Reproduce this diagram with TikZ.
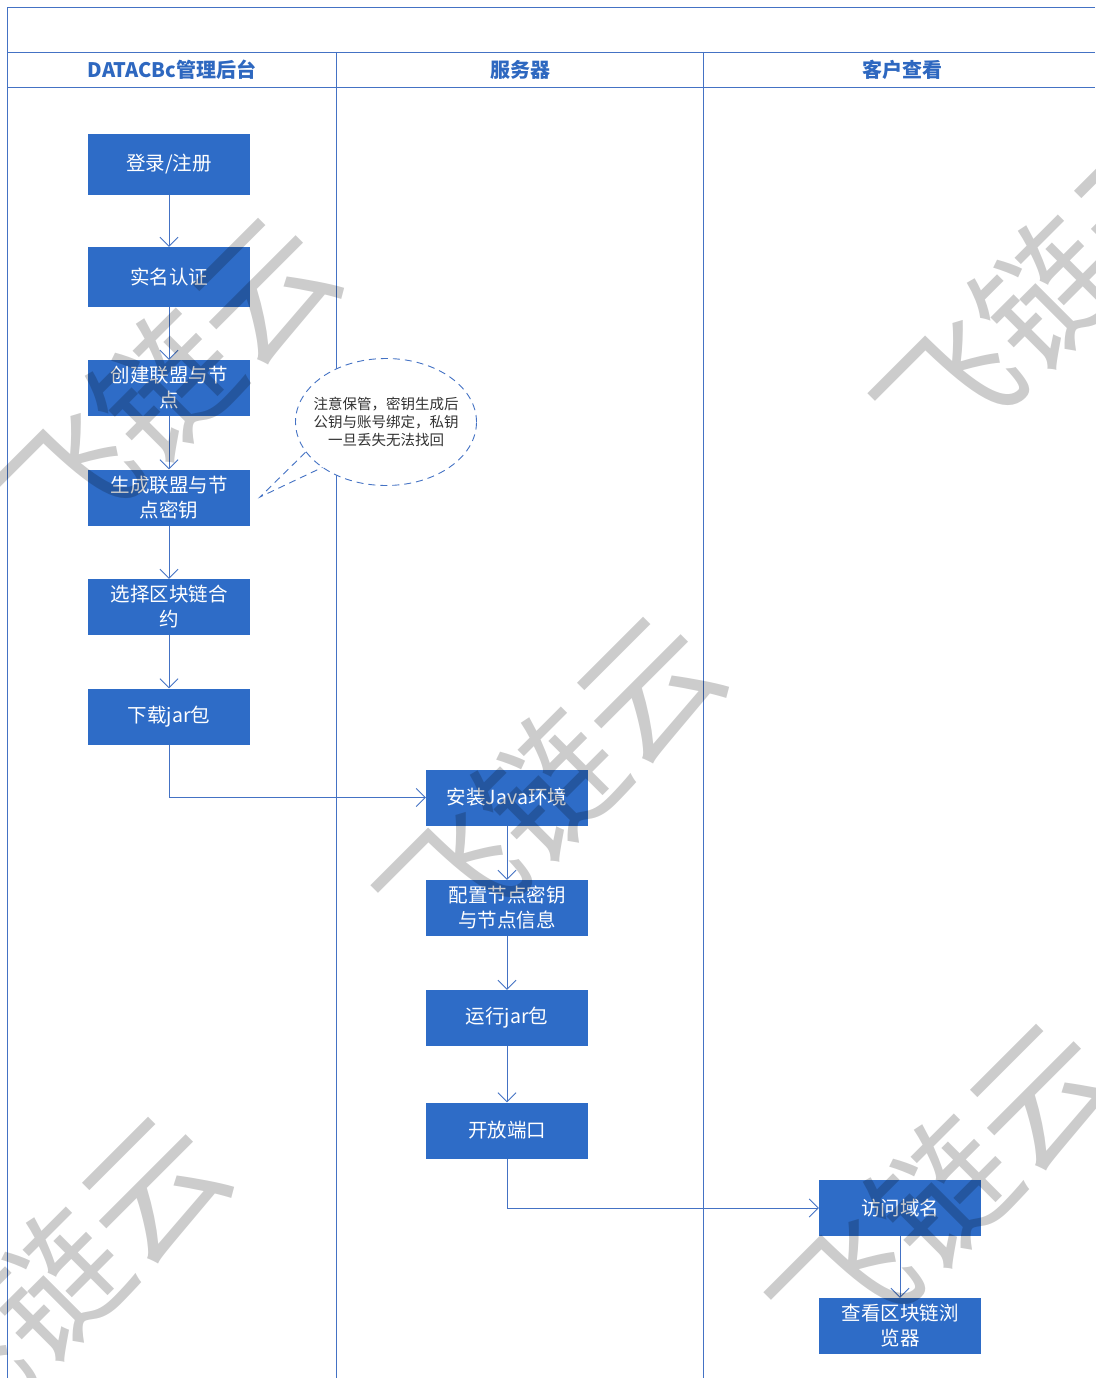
\documentclass[tikz,border=0pt]{standalone}
\usepackage{fontspec}
\setmainfont{Noto Sans CJK SC}
\usetikzlibrary{arrows.meta,shapes.geometric,calc}
\definecolor{boxblue}{RGB}{46,108,199}
\definecolor{lineblue}{RGB}{68,114,196}
\definecolor{headblue}{RGB}{46,104,192}
\definecolor{notegray}{RGB}{50,50,50}
\tikzset{
  frame/.style={draw=lineblue, line width=0.9pt},
  stepbox/.style={rectangle, fill=boxblue, text=white, minimum width=162pt, minimum height=56pt,
    inner sep=0pt, align=center, font=\fontsize{19.5}{25}\selectfont},
  head/.style={text=headblue, font=\fontsize{20}{22}\selectfont\bfseries},
  arr/.style={draw=lineblue, line width=0.9pt, -{Straight Barb[length=9pt,width=18pt]}},
  wm/.style={text=black, text opacity=0.2, font=\fontsize{138}{138}\selectfont, rotate=45, inner sep=0pt},
  note/.style={ellipse, draw=lineblue, dashed, dash pattern=on 7pt off 5pt, line width=0.9pt, fill=white,
    minimum width=181pt, minimum height=127pt, inner sep=0pt},
  notetext/.style={align=center, text=notegray, inner sep=0pt, font=\fontsize{14.5}{18}\selectfont}
}
\begin{document}
\begin{tikzpicture}[x=1pt,y=-1pt]
\useasboundingbox (0,0) rectangle (1095,1378);
\fill[white] (0,0) rectangle (1095,1378);
% frame
\draw[frame] (1095,7) -- (7,7) -- (7,1378);
\draw[frame] (7,52) -- (1095,52);
\draw[frame] (7,87) -- (1095,87);
\draw[frame] (336,52) -- (336,1378);
\draw[frame] (703,52) -- (703,1378);
% headers
\node[head] (h1) at (172,70) {DATACBc管理后台};
\node[head] (h2) at (520,70) {服务器};
\node[head] (h3) at (902,70) {客户查看};
% boxes
\node[stepbox, minimum height=61pt] (n1) at (169,164.5) {登录/注册};
\node[stepbox, minimum height=60pt] (n2) at (169,277) {实名认证};
\node[stepbox] (n3) at (169,388) {创建联盟与节\\点};
\node[stepbox] (n4) at (169,497.5) {生成联盟与节\\点密钥};
\node[stepbox] (n5) at (169,607) {选择区块链合\\约};
\node[stepbox] (n6) at (169,716.5) {下载jar包};
\node[stepbox] (s1) at (507,797.5) {安装Java环境};
\node[stepbox] (s2) at (507,908) {配置节点密钥\\与节点信息};
\node[stepbox] (s3) at (507,1018) {运行jar包};
\node[stepbox] (s4) at (507,1130.5) {开放端口};
\node[stepbox] (c1) at (900,1208) {访问域名};
\node[stepbox] (c2) at (900,1326) {查看区块链浏\\览器};
% arrows
\draw[arr] (n1) -- (n2);
\draw[arr] (n2) -- (n3);
\draw[arr] (n3) -- (n4);
\draw[arr] (n4) -- (n5);
\draw[arr] (n5) -- (n6);
\draw[arr] (n6.south) |- (s1.west);
\draw[arr] (s1) -- (s2);
\draw[arr] (s2) -- (s3);
\draw[arr] (s3) -- (s4);
\draw[arr] (s4.south) |- (c1.west);
\draw[arr] (c1) -- (c2);
% callout
\coordinate (tip) at (260,497);
\coordinate (tb1) at (314,444);
\coordinate (tb2) at (338,460);
\fill[white] (tb1) -- (tip) -- (tb2) -- cycle;
\draw[draw=lineblue, line width=0.9pt, dash pattern=on 7pt off 5pt] (tb1) -- (tip) -- (tb2);
\node[note] (note) at (386,422) {};
\node[notetext] (notet) at (note.center) {注意保管，密钥生成后\\公钥与账号绑定，私钥\\一旦丢失无法找回};
% watermarks
\node[wm] (w1) at (667,-118) {飞链云};
\node[wm] (w2) at (165,386) {飞链云};
\node[wm] (w3) at (550,785) {飞链云};
\node[wm] (w4) at (1047,293) {飞链云};
\node[wm] (w5) at (55,1285) {飞链云};
\node[wm] (w6) at (943,1192) {飞链云};
\end{tikzpicture}
\end{document}
